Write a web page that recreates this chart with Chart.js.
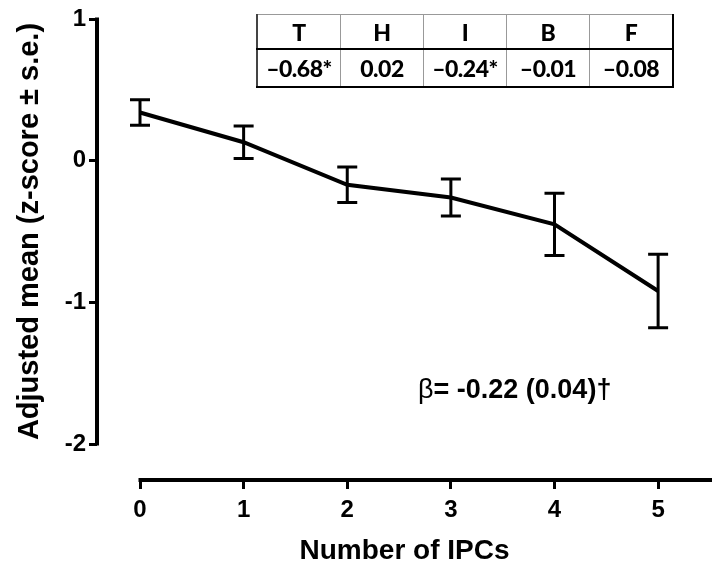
<!DOCTYPE html>
<html><head><meta charset="utf-8">
<script src="https://cdn.jsdelivr.net/npm/chart.js@4.4.1/dist/chart.umd.min.js"></script>
<style>
html,body{margin:0;padding:0;background:#fff;}
#wrap{position:relative;width:712px;height:570px;overflow:hidden;}
canvas{position:absolute;left:0;top:0;}
#tbl{position:absolute;left:256px;top:14px;border-collapse:collapse;font-family:Lato,"Open Sans",sans-serif;font-weight:900;color:#000;}
#tbl td{width:82px;text-align:center;padding:0;font-size:23px;border-left:1px solid #999;border-right:1px solid #999;letter-spacing:-0.5px;}
#tbl tr.h td{height:33px;border-top:1px solid #999;border-bottom:2px solid #000;}
#tbl tr.v td{height:36px;border-bottom:2px solid #000;}
#tbl td:first-child{border-left:2px solid #444;}
#tbl td:last-child{border-right:2px solid #000;}
#beta{position:absolute;left:418px;top:374px;font-family:"Liberation Sans",Arial,sans-serif;font-size:27px;color:#000;white-space:nowrap;}
#beta b{font-weight:bold;}
</style></head>
<body>
<div id="wrap">
<canvas id="c" width="712" height="570"></canvas>
<table id="tbl"><tr class="h"></tr><tr class="v"></tr></table>
<div id="beta"></div>
</div>
<script>
const xValues = [0, 1, 2, 3, 4, 5];
const means = [0.34, 0.13, -0.17, -0.26, -0.45, -0.92];
const stdErr = [0.09, 0.115, 0.125, 0.13, 0.22, 0.26];
const xTicks = [0, 1, 2, 3, 4, 5];
const yTicks = [-2, -1, 0, 1];
const tableHeaders = ['T', 'H', 'I', 'B', 'F'];
const tableValues = ['\u20130.68*', '0.02', '\u20130.24*', '\u20130.01', '\u20130.08'];
const xTitle = 'Number of IPCs';
const yTitle = 'Adjusted mean (z-score \u00b1 s.e.)';
const betaSymbol = '\u03b2';
const betaText = '= -0.22 (0.04)\u2020';

// table + annotation text
const hr = document.querySelector('#tbl tr.h'), vr = document.querySelector('#tbl tr.v');
tableHeaders.forEach(h => { const td = document.createElement('td'); td.textContent = h; hr.appendChild(td); });
tableValues.forEach(v => { const td = document.createElement('td'); td.textContent = v; vr.appendChild(td); });
const beta = document.getElementById('beta');
beta.appendChild(document.createTextNode(betaSymbol));
const bb = document.createElement('b'); bb.textContent = betaText; beta.appendChild(bb);

const FONT = '"Liberation Sans", Arial, sans-serif';

const customDraw = {
  id: 'customDraw',
  afterDatasetsDraw(chart) {
    const ctx = chart.ctx, xs = chart.scales.x, ys = chart.scales.y, ca = chart.chartArea;
    ctx.save();
    ctx.strokeStyle = '#000';
    // y axis line
    ctx.lineWidth = 4;
    ctx.beginPath();
    ctx.moveTo(ca.left, ys.getPixelForValue(Math.max(...yTicks)) - 1.5);
    ctx.lineTo(ca.left, ys.getPixelForValue(Math.min(...yTicks)) + 1.5);
    ctx.stroke();
    // x axis line
    ctx.beginPath();
    ctx.moveTo(xs.getPixelForValue(Math.min(...xTicks)) - 1.5, ca.bottom);
    ctx.lineTo(ca.right, ca.bottom);
    ctx.stroke();
    // error bars
    ctx.lineWidth = 3;
    xValues.forEach((xv, i) => {
      const px = xs.getPixelForValue(xv);
      const t = ys.getPixelForValue(means[i] + stdErr[i]);
      const b = ys.getPixelForValue(means[i] - stdErr[i]);
      ctx.beginPath();
      ctx.moveTo(px, t); ctx.lineTo(px, b);
      ctx.moveTo(px - 10, t); ctx.lineTo(px + 10, t);
      ctx.moveTo(px - 10, b); ctx.lineTo(px + 10, b);
      ctx.stroke();
    });
    // y title
    ctx.fillStyle = '#000';
    ctx.font = 'bold 29px ' + FONT;
    ctx.textAlign = 'center';
    ctx.textBaseline = 'middle';
    const cy = (ys.getPixelForValue(Math.max(...yTicks)) + ys.getPixelForValue(Math.min(...yTicks))) / 2;
    ctx.translate(30, cy);
    ctx.rotate(-Math.PI / 2);
    ctx.fillText(yTitle, 0, 0);
    ctx.restore();
  }
};

new Chart(document.getElementById('c'), {
  type: 'line',
  data: {
    datasets: [{
      data: xValues.map((x, i) => ({ x: x, y: means[i] })),
      borderColor: '#000',
      borderWidth: 4,
      pointRadius: 0,
      tension: 0,
      fill: false
    }]
  },
  options: {
    responsive: false,
    animation: false,
    devicePixelRatio: 1,
    layout: { padding: { top: 19, left: 0, right: 0, bottom: 0 } },
    plugins: { legend: { display: false }, tooltip: { enabled: false } },
    scales: {
      x: {
        type: 'linear',
        min: -0.415,
        max: 5.52,
        afterBuildTicks: s => { s.ticks = xTicks.map(v => ({ value: v })); },
        afterFit: s => { s.height = 90; },
        border: { display: false },
        grid: { drawOnChartArea: false, drawTicks: true, tickLength: 9, tickWidth: 3, tickColor: '#000', color: '#000' },
        ticks: { color: '#000', font: { family: FONT, size: 24, weight: 'bold' }, padding: 7, maxRotation: 0, autoSkip: false },
        title: { display: true, text: xTitle, color: '#000', font: { family: FONT, size: 28, weight: 'bold' }, padding: { top: 0, bottom: 2 } }
      },
      y: {
        type: 'linear',
        min: -2.254,
        max: 1,
        afterBuildTicks: s => { s.ticks = yTicks.map(v => ({ value: v })); },
        afterFit: s => { s.width = 97; },
        border: { display: false },
        grid: { drawOnChartArea: false, drawTicks: true, tickLength: 8, tickWidth: 3, tickColor: '#000', color: '#000' },
        ticks: { color: '#000', font: { family: FONT, size: 24, weight: 'bold' }, padding: 3, autoSkip: false },
        title: { display: false }
      }
    }
  },
  plugins: [customDraw]
});
</script>
</body></html>
